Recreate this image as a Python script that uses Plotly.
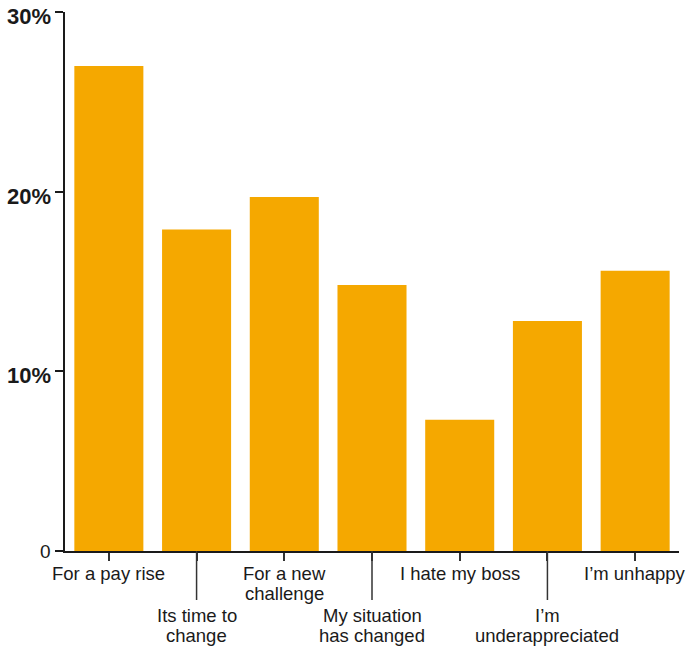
import plotly.graph_objects as go

categories = [
    ["For a pay rise"],
    ["Its time to", "change"],
    ["For a new", "challenge"],
    ["My situation", "has changed"],
    ["I hate my boss"],
    ["I\u2019m", "underappreciated"],
    ["I\u2019m unhappy"],
]
values = [27.0, 17.9, 19.7, 14.8, 7.3, 12.8, 15.6]
y_tickvals = [0, 10, 20, 30]
y_ticktext = ["0", "10%", "20%", "30%"]

BAR = "#F5A800"
INK = "#1a1a1a"
FONT = "Liberation Sans, Arial, sans-serif"

x = list(range(len(values)))

fig = go.Figure(go.Bar(x=x, y=values, marker=dict(color=BAR, line=dict(width=0)),
                       hoverinfo="skip"))

# x labels: first row lines (pixels below the axis), staggered second row
row_shift = [-22.8, -64.3]
line_gap = 20
annotations = []
shapes = []
for i, lines in enumerate(categories):
    row = i % 2
    for k, txt in enumerate(lines):
        annotations.append(dict(
            x=i, xref="x", y=0, yref="paper", yanchor="middle", xanchor="center",
            yshift=row_shift[row] - k * line_gap, text=txt, showarrow=False,
            font=dict(family=FONT, size=18.5, color=INK)))
    if row == 1:
        shapes.append(dict(type="line", xref="x", x0=i, x1=i, yref="paper",
                           ysizemode="pixel", yanchor=0, y0=0, y1=-49,
                           line=dict(color="#333333", width=1.5), layer="above"))

# y tick labels (bold percentages, plain zero)
for v, t in zip(y_tickvals, y_ticktext):
    is_zero = (v == 0)
    annotations.append(dict(
        x=0, xref="paper", xanchor="right", xshift=-12,
        y=v, yref="y", yanchor="middle", yshift=(0 if is_zero else -4.5),
        text=(t if is_zero else "<b>%s</b>" % t), showarrow=False,
        font=dict(family=FONT, size=(19 if is_zero else 22), color=INK)))

fig.update_layout(
    width=686, height=648,
    margin=dict(l=65, r=7, t=12, b=97),
    paper_bgcolor="white", plot_bgcolor="white",
    showlegend=False, bargap=0.213,
    annotations=annotations, shapes=shapes,
    xaxis=dict(range=[-0.5, 6.5], tickvals=x, showticklabels=False,
               ticks="outside", ticklen=8, tickwidth=1.5, tickcolor="#333333",
               showline=True, linecolor=INK, linewidth=2, showgrid=False,
               zeroline=False, fixedrange=True, automargin=False),
    yaxis=dict(range=[0, 30], tickvals=y_tickvals, showticklabels=False,
               ticks="outside", ticklen=8, tickwidth=1.5, tickcolor=INK,
               showline=True, linecolor=INK, linewidth=2, showgrid=False,
               zeroline=False, fixedrange=True, automargin=False),
)

fig.write_html("out.html")
